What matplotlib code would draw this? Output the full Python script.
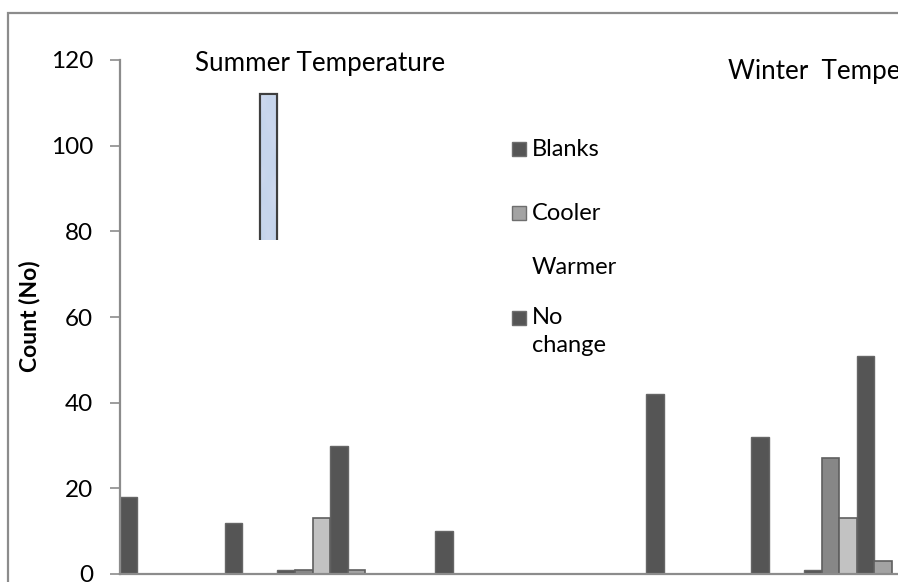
import matplotlib
matplotlib.use("Agg")
import matplotlib.pyplot as plt
from matplotlib.patches import Rectangle
import numpy as np

# counts per bar slot, grouped by shade
dark_slots = [0, 6, 9, 12, 18, 30, 36, 39, 42]
dark_counts = [18, 12, 1, 30, 10, 42, 32, 1, 51]
mid_slots = [10, 40]
mid_counts = [1, 27]
light_slots = [11, 41]
light_counts = [13, 13]
cooler_slots = [13, 43]
cooler_counts = [1, 3]
warmer_slots = [8]
warmer_counts = [112]

legend_labels = ["Blanks", "Cooler", "Warmer", "No\nchange"]
y_ticks = [0, 20, 40, 60, 80, 100, 120]

plt.rcParams["font.family"] = ["Lato", "DejaVu Sans"]
W, H = 898, 582
fig = plt.figure(figsize=(W / 100, H / 100), dpi=100)

def fx(px):
    return px / W

def fy(py):
    return 1 - py / H

# outer chart frame (runs off the right/bottom edge)
fig.patches.append(Rectangle((fx(8), -0.2), 1.5, fy(13) + 0.2, transform=fig.transFigure,
                             fill=False, edgecolor="#8c8c8c", linewidth=1.6))

ax = fig.add_axes([fx(119.5), fy(574), 1 - fx(119.5), fy(60) - fy(574)])
ax.bar(dark_slots, dark_counts, width=1.0, color="#555555", edgecolor="#666666", linewidth=1)
ax.bar(mid_slots, mid_counts, width=1.0, color="#878787", edgecolor="#5f5f5f", linewidth=1.2)
ax.bar(light_slots, light_counts, width=1.0, color="#c2c2c2", edgecolor="#5f5f5f", linewidth=1.2)
ax.bar(cooler_slots, cooler_counts, width=1.0, color="#a3a3a3", edgecolor="#5f5f5f", linewidth=1.2)

# warmer bar: lower part hidden behind the legend area
wb = ax.bar(warmer_slots, warmer_counts, width=1.0, color="#d3e2f7", edgecolor="#3f3f3f", linewidth=1.6)
cut = Rectangle((-1, 78), 60, 100, transform=ax.transData)
for p in wb:
    p.set_clip_path(cut)
    # faint mottled texture
    x0, y0 = p.get_x(), 78
    tex = np.array([[0.55, 0.70, 0.62], [0.72, 0.50, 0.66], [0.60, 0.74, 0.52],
                    [0.70, 0.56, 0.72], [0.52, 0.72, 0.60], [0.74, 0.62, 0.50],
                    [0.58, 0.70, 0.64], [0.70, 0.54, 0.72]])
    im = ax.imshow(tex, cmap="PuBu", vmin=0.0, vmax=2.0, alpha=0.45, interpolation="bicubic",
                   extent=(x0 + 0.08, x0 + 0.92, y0, p.get_height() - 0.4), aspect="auto", zorder=2.5)
    im.set_clip_path(cut)

ax.set_xlim(-0.5, 43.85)
ax.set_ylim(0, 120)
ax.set_yticks(y_ticks)
ax.set_xticks([])
ax.tick_params(axis="y", direction="out", length=7, width=1.2, color="#8c8c8c",
               labelsize=17.5, pad=12, labelcolor="#000000")
for s in ["top", "right"]:
    ax.spines[s].set_visible(False)
for s in ["left", "bottom"]:
    ax.spines[s].set_color("#8c8c8c")
    ax.spines[s].set_linewidth(1.6)
ax.patch.set_visible(False)

fig.text(fx(30), fy(316), "Count (No)", rotation=90, fontsize=16.5, fontweight="bold",
         ha="center", va="center")
fig.text(fx(320), fy(63), "Summer Temperature", fontsize=18.7, ha="center", va="center")
fig.text(fx(728), fy(71), "Winter  Temperature", fontsize=18.7, ha="left", va="center")

# legend
rows_y = [149, 213, 268, 318]
swatch = ["#555555", "#a3a3a3", None, "#555555"]
for lab, yy, col in zip(legend_labels, rows_y, swatch):
    if col is not None:
        fig.patches.append(Rectangle((fx(512), fy(yy + 7)), fx(14), fy(yy - 7) - fy(yy + 7),
                                     transform=fig.transFigure, facecolor=col,
                                     edgecolor="#6e6e6e", linewidth=1))
    first, *rest = lab.split("\n")
    fig.text(fx(532), fy(yy), first, fontsize=17, ha="left", va="center")
    for k, line in enumerate(rest):
        fig.text(fx(532), fy(yy + 27 * (k + 1)), line, fontsize=17, ha="left", va="center")

fig.savefig("out.png", dpi=100)
